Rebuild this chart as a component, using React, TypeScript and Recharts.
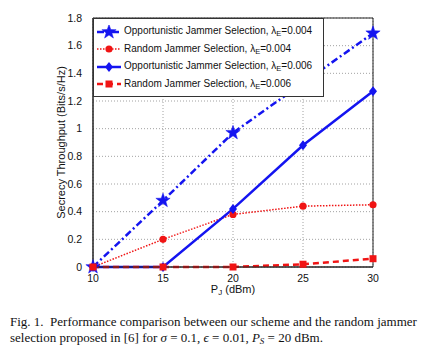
import React from "react";
import { CartesianGrid, Line, LineChart, ReferenceArea, XAxis, YAxis } from "recharts";

const powers = [10, 15, 20, 25, 30];
const oppLow = [0, 0.48, 0.97, 1.33, 1.69];
const randLow = [0, 0.2, 0.38, 0.44, 0.45];
const oppHigh = [0, 0, 0.42, 0.88, 1.27];
const randHigh = [0, 0, 0, 0.02, 0.06];
const xTicks = [10, 15, 20, 25, 30];
const yTicks = [0, 0.2, 0.4, 0.6, 0.8, 1, 1.2, 1.4, 1.6, 1.8];

const BLUE = "#1414f0";
const RED = "#f01414";
const FONT = "'Liberation Sans', Arial, Helvetica, sans-serif";

const data = powers.map((p, i) => ({
  p,
  oppLow: oppLow[i],
  randLow: randLow[i],
  oppHigh: oppHigh[i],
  randHigh: randHigh[i],
}));

type Shape = "star" | "circle" | "diamond" | "square";

function Marker({ cx, cy, shape, color }: { cx: number; cy: number; shape: Shape; color: string }) {
  if (shape === "star") {
    const pts: string[] = [];
    for (let k = 0; k < 10; k++) {
      const r = k % 2 === 0 ? 7.5 : 3;
      const a = -Math.PI / 2 + (k * Math.PI) / 5;
      pts.push(`${cx + r * Math.cos(a)},${cy + r * Math.sin(a)}`);
    }
    return <polygon points={pts.join(" ")} fill={color} stroke={color} strokeWidth={0.5} />;
  }
  if (shape === "circle") return <circle cx={cx} cy={cy} r={3.6} fill={color} />;
  if (shape === "diamond")
    return (
      <polygon
        points={`${cx},${cy - 5} ${cx + 4},${cy} ${cx},${cy + 5} ${cx - 4},${cy}`}
        fill={color}
      />
    );
  return <rect x={cx - 3.5} y={cy - 3.5} width={7} height={7} fill={color} />;
}

const series = [
  { key: "oppLow", label: "Opportunistic Jammer Selection, ", lam: "0.004", color: BLUE, dash: "7 3 2 3", width: 2.5, shape: "star" as Shape },
  { key: "randLow", label: "Random Jammer Selection, ", lam: "0.004", color: RED, dash: "1.5 1.5", width: 1.5, shape: "circle" as Shape },
  { key: "oppHigh", label: "Opportunistic Jammer Selection, ", lam: "0.006", color: BLUE, dash: undefined, width: 2.5, shape: "diamond" as Shape },
  { key: "randHigh", label: "Random Jammer Selection, ", lam: "0.006", color: RED, dash: "6 4", width: 2.5, shape: "square" as Shape },
];

function LegendBox() {
  return (
    <div
      style={{
        position: "absolute",
        left: 93,
        top: 18,
        background: "#fff",
        border: "1px solid #333",
        width: 231,
        height: 79,
        boxSizing: "border-box",
        paddingTop: 4,
        fontFamily: FONT,
        fontSize: 10,
        color: "#111",
      }}
    >
      {series.map((s) => (
        <div key={s.key} style={{ display: "flex", alignItems: "center", height: 17.5 }}>
          <svg width={30} height={14} style={{ flex: "none" }}>
            <line x1={3} y1={7} x2={27} y2={7} stroke={s.color} strokeWidth={s.width} strokeDasharray={s.dash} />
            <Marker cx={15} cy={7} shape={s.shape} color={s.color} />
          </svg>
          <span style={{ whiteSpace: "nowrap" }}>
            {s.label}λ<sub style={{ fontSize: 7.5, verticalAlign: -2 }}>E</sub>={s.lam}
          </span>
        </div>
      ))}
    </div>
  );
}

export default function App() {
  return (
    <div style={{ position: "absolute", left: 0, top: 0, width: 436, height: 356, background: "#fff" }}>
      <LineChart
        width={436}
        height={292}
        data={data}
        margin={{ top: 18, right: 63, left: 53, bottom: 5 }}
        style={{ fontFamily: FONT }}
      >
        <CartesianGrid stroke="#8a8a8a" strokeDasharray="1 2" strokeWidth={0.8} />
        <XAxis
          dataKey="p"
          type="number"
          domain={[10, 30]}
          ticks={xTicks}
          tickLine={false}
          tick={{ fill: "#111", fontSize: 10.5 }}
          stroke="#222"
          height={20}
          tickMargin={2}
        />
        <YAxis
          type="number"
          domain={[0, 1.8]}
          ticks={yTicks}
          tickLine={false}
          tick={{ fill: "#111", fontSize: 10.5 }}
          tickFormatter={(v: number) => String(v)}
          stroke="#222"
          width={40}
          tickMargin={5}
          label={{
            value: "Secrecy Throughput (Bits/s/Hz)",
            angle: -90,
            position: "insideLeft",
            offset: 8,
            style: { textAnchor: "middle", fill: "#111", fontSize: 11 },
          }}
        />
        <ReferenceArea x1={10} x2={30} y1={0} y2={1.8} fill="none" stroke="#222" strokeWidth={1} ifOverflow="visible" />
        {series.map((s) => (
          <Line
            key={s.key}
            dataKey={s.key}
            stroke={s.color}
            strokeWidth={s.width}
            strokeDasharray={s.dash}
            isAnimationActive={false}
            dot={(props: any) => (
              <Marker key={`${s.key}-${props.index}`} cx={props.cx} cy={props.cy} shape={s.shape} color={s.color} />
            )}
            activeDot={false}
          />
        ))}
      </LineChart>
      <LegendBox />
      <div
        style={{
          position: "absolute",
          left: 233,
          top: 283,
          transform: "translateX(-50%)",
          fontFamily: FONT,
          fontSize: 11,
          color: "#111",
          whiteSpace: "nowrap",
        }}
      >
        P<sub style={{ fontSize: 8, verticalAlign: -2 }}>J</sub> (dBm)
      </div>
      <div
        style={{
          position: "absolute",
          left: 10,
          top: 314,
          fontFamily: "'Liberation Serif', 'Times New Roman', serif",
          fontSize: 13,
          lineHeight: "15.5px",
          color: "#111",
          whiteSpace: "nowrap",
        }}
      >
        <div>Fig. 1.&nbsp;&nbsp;Performance comparison between our scheme and the random jammer</div>
        <div>
          selection proposed in [6] for <i>σ</i> = 0.1, <i>ϵ</i> = 0.01, <i>P</i>
          <sub style={{ fontSize: 9, verticalAlign: -2 }}>
            <i>S</i>
          </sub>{" "}
          = 20 dBm.
        </div>
      </div>
    </div>
  );
}
